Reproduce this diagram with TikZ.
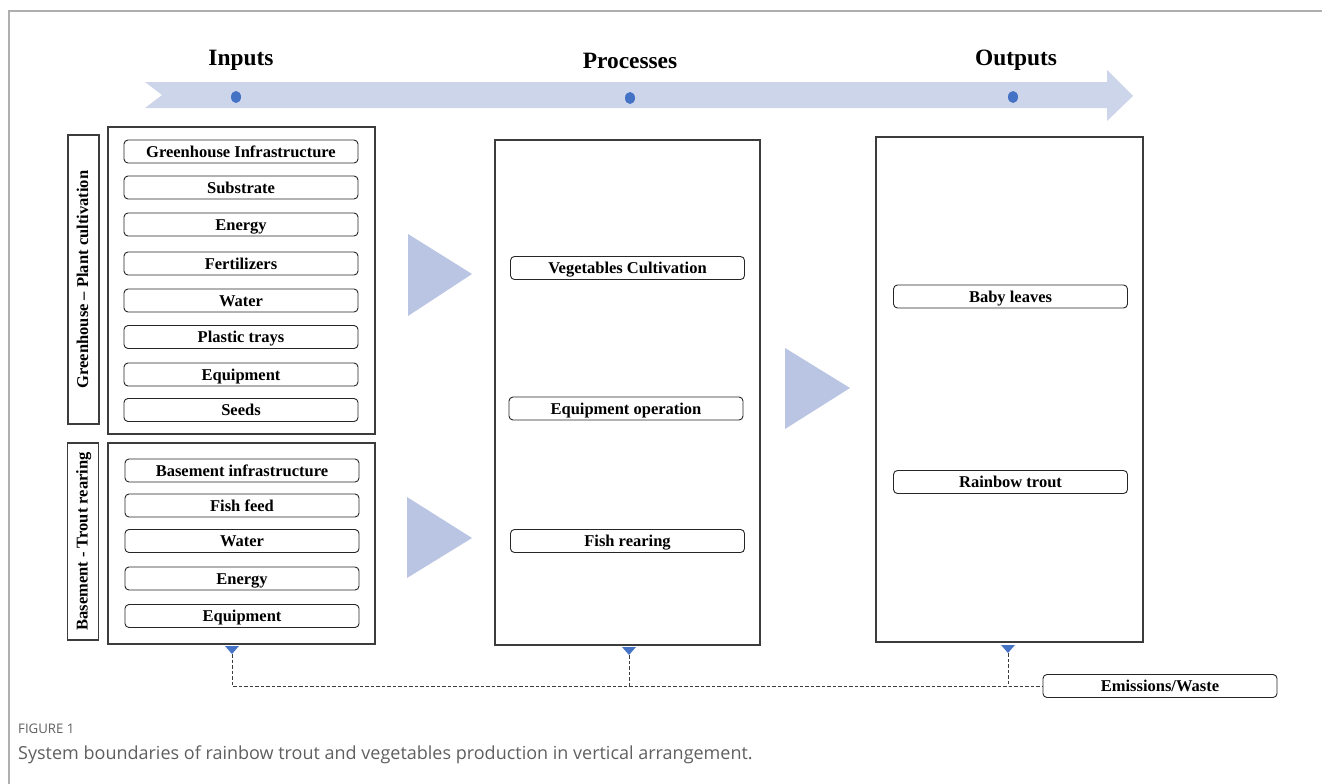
\documentclass[tikz,border=0pt]{standalone}
\usepackage{fontspec}
\setmainfont{Liberation Serif}
\newfontfamily\capfont{Open Sans}
\definecolor{banner}{RGB}{205,213,235}
\definecolor{tri}{RGB}{186,197,227}
\definecolor{dotblue}{RGB}{68,114,196}
\definecolor{frame}{RGB}{175,175,175}
\definecolor{capgray}{RGB}{95,95,95}
\definecolor{boxline}{RGB}{60,60,60}
\tikzset{
  item/.style={draw=black!85, line width=0.9pt, rounded corners=4pt, minimum width=234pt, minimum height=23pt,
    inner sep=0pt, text height=13pt, text depth=2pt, font=\fontsize{16.5}{18}\selectfont\bfseries},
  bigbox/.style={draw=boxline, line width=1.3pt},
  sidelabel/.style={draw=boxline, line width=1.3pt, rotate=90, minimum height=31pt, inner sep=0pt,
    text height=12pt, text depth=3pt, font=\fontsize{16.5}{18}\selectfont\bfseries},
  title/.style={anchor=base, inner sep=0pt, font=\fontsize{23.4}{26}\selectfont\bfseries},
  flowtri/.style={fill=tri},
  marker/.style={fill=dotblue},
  waste/.style={draw=boxline, line width=0.8pt, dash pattern=on 3.5pt off 2pt}
}
\begin{document}
\begin{tikzpicture}[x=1pt,y=-1pt]
\useasboundingbox (0,0) rectangle (1322,784);
% frame
\draw[frame, line width=1.5pt] (9,784) -- (9,11) -- (1322,11);
% banner arrow
\fill[banner] (145,82) -- (1107,82) -- (1107,70) -- (1133,96) -- (1107,121) -- (1107,108) -- (145,108) -- (162,95) -- cycle;
\fill[dotblue] (236,97) ellipse [x radius=5pt, y radius=6pt];
\fill[dotblue] (630,98) ellipse [x radius=5pt, y radius=6pt];
\fill[dotblue] (1013,97) ellipse [x radius=5pt, y radius=6pt];
\node[title] (tin) at (241,66) {Inputs};
\node[title] (tpr) at (630,68) {Processes};
\node[title] (tout) at (1016,66) {Outputs};
% side labels
\node[sidelabel, minimum width=289pt] (lg) at (83.5,279.5) {Greenhouse -- Plant cultivation};
\node[sidelabel, minimum width=197pt] (lb) at (83,541.5) {Basement - Trout rearing};
% input boxes
\draw[bigbox] (108,127) rectangle (375,434);
\draw[bigbox] (108,443) rectangle (375,644);
\node[item] (g1) at (241,151.5) {Greenhouse Infrastructure};
\node[item] (g2) at (241,187.5) {Substrate};
\node[item] (g3) at (241,224.5) {Energy};
\node[item] (g4) at (241,263.5) {Fertilizers};
\node[item] (g5) at (241,300.5) {Water};
\node[item] (g6) at (241,337) {Plastic trays};
\node[item] (g7) at (241,374.5) {Equipment};
\node[item] (g8) at (241,410) {Seeds};
\node[item] (b1) at (242,470.5) {Basement infrastructure};
\node[item] (b2) at (242,505.5) {Fish feed};
\node[item] (b3) at (242,541) {Water};
\node[item] (b4) at (242,578.5) {Energy};
\node[item] (b5) at (242,616) {Equipment};
% process box
\draw[bigbox] (495,140) rectangle (760,645);
\node[item] (p1) at (627.5,268) {Vegetables Cultivation};
\node[item] (p2) at (626,408.5) {Equipment operation};
\node[item] (p3) at (627.5,541) {Fish rearing};
% output box
\draw[bigbox] (876,137) rectangle (1143,642);
\node[item] (o1) at (1010.5,296.5) {Baby leaves};
\node[item] (o2) at (1010.5,482) {Rainbow trout};
% flow triangles
\fill[flowtri] (408,234) -- (472,274) -- (408,316) -- cycle;
\fill[flowtri] (407,497) -- (472,538) -- (407,578) -- cycle;
\fill[flowtri] (785,348) -- (850,388) -- (785,429) -- cycle;
% emissions
\node[item] (em) at (1160,686) {Emissions/Waste};
\fill[marker] (225,646) -- (239,646) -- (232,654) -- cycle;
\fill[marker] (622,647) -- (636,647) -- (629,655) -- cycle;
\fill[marker] (1001,645) -- (1015,645) -- (1008,653) -- cycle;
\coordinate (m1) at (232,654);
\coordinate (m2) at (629,655);
\coordinate (m3) at (1008,653);
\draw[waste] (m1) |- (em.west);
\draw[waste] (m2) -- (m2 |- em.west);
\draw[waste] (m3) -- (m3 |- em.west);
% caption
\node[anchor=base west, inner sep=0pt, text=capgray, font=\capfont\fontsize{13.2}{15}\selectfont] (cap1) at (18,733) {FIGURE 1};
\node[anchor=base west, inner sep=0pt, text=capgray, font=\capfont\fontsize{18}{20}\selectfont] (cap2) at (18,759) {System boundaries of rainbow trout and vegetables production in vertical arrangement.};
\end{tikzpicture}
\end{document}
